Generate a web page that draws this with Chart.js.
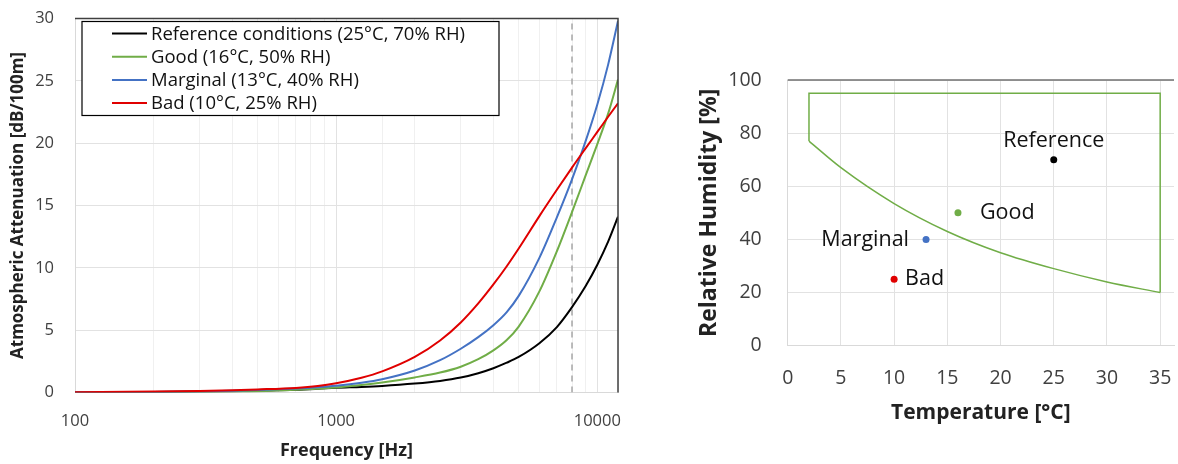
<!DOCTYPE html>
<html>
<head>
<meta charset="utf-8">
<script src="https://cdn.jsdelivr.net/npm/chart.js@4.4.0/dist/chart.umd.min.js"></script>
<style>
  html, body { margin: 0; padding: 0; background: #fff; }
  #wrap { position: relative; width: 1178px; height: 464px; }
  #chart-atten { position: absolute; left: 0; top: 0; }
  #chart-climate { position: absolute; left: 640px; top: 0; }
</style>
</head>
<body>
<div id="wrap">
  <canvas id="chart-atten" width="640" height="464"></canvas>
  <canvas id="chart-climate" width="538" height="464"></canvas>
</div>
<script>
// attenuation curves [dB/100m] read at these frequencies [Hz]
var freqs = [100, 200, 300, 400, 500, 700, 850, 1000, 1250, 1500, 2000, 2500, 3000, 3500, 4000, 4500, 5000, 6000, 7000, 8000, 9000, 10000, 11000, 12000];
var attReference = [0.02, 0.05, 0.08, 0.11, 0.15, 0.22, 0.3, 0.38, 0.45, 0.53, 0.72, 0.93, 1.2, 1.55, 1.95, 2.39, 2.85, 3.95, 5.25, 6.85, 8.5, 10.25, 12.1, 14.1];
var attGood = [0.01, 0.03, 0.06, 0.08, 0.11, 0.22, 0.31, 0.41, 0.6, 0.8, 1.21, 1.6, 2.07, 2.67, 3.38, 4.21, 5.29, 8.11, 11.33, 14.47, 17.35, 19.93, 22.37, 25.1];
var attMarginal = [0.02, 0.04, 0.09, 0.14, 0.2, 0.32, 0.42, 0.54, 0.78, 1.06, 1.76, 2.59, 3.51, 4.44, 5.4, 6.45, 7.75, 10.8, 14.05, 17.1, 20.1, 23.1, 26.3, 29.8];
var attBad = [0.03, 0.08, 0.13, 0.19, 0.25, 0.37, 0.52, 0.74, 1.18, 1.69, 2.85, 4.17, 5.62, 7.15, 8.67, 10.13, 11.55, 14.15, 16.26, 18.04, 19.56, 20.9, 22.12, 23.2];

var seriesLabels = [
  "Reference conditions (25°C, 70% RH)",
  "Good (16°C, 50% RH)",
  "Marginal (13°C, 40% RH)",
  "Bad (10°C, 25% RH)",
];
var seriesColors = ["#000000", "#70ad47", "#4472c4", "#e00000"];

var markerFreq = 8000;
var freqLabels = [100, 1000, 10000];
var attTicks = [0, 5, 10, 15, 20, 25, 30];

// climate points
var climateNames = ["Reference", "Good", "Marginal", "Bad"];
var climateTemp = [25, 16, 13, 10];
var climateRH = [70, 50, 40, 25];

// acceptable zone outline
var zoneBoxTemp = [2, 2, 35, 35];
var zoneBoxRH = [77, 95, 95, 20];
var zoneCurveTemp = [2, 5, 10, 15, 20, 25, 30, 35];
var zoneCurveRH = [77, 67, 53.5, 43, 35, 29, 24, 20];

var tempTicks = [0, 5, 10, 15, 20, 25, 30, 35];
var rhTicks = [0, 20, 40, 60, 80, 100];

function toPoints(xs, ys) {
  return xs.map(function (x, i) {
    return { x: x, y: ys[i] };
  });
}

function tickList(values) {
  return function (s) {
    s.ticks = values.map(function (v) {
      return { value: v };
    });
  };
}

// keep tick padding from pushing the plot area in
function fixSize(w, h) {
  return function (s) {
    if (w !== null) s.width = w;
    if (h !== null) s.height = h;
    s.paddingTop = 0;
    s.paddingBottom = 0;
    s.paddingLeft = 0;
    s.paddingRight = 0;
  };
}

// top (+ right) dark frame like the original plot area
var frameLines = {
  id: "frameLines",
  afterDraw: function (chart, args, opts) {
    var a = chart.chartArea;
    var c = chart.ctx;
    c.save();
    c.strokeStyle = opts.color;
    c.lineWidth = 1.5;
    c.beginPath();
    c.moveTo(a.left, a.top);
    c.lineTo(a.right, a.top);
    if (opts.right) c.lineTo(a.right, a.bottom);
    c.stroke();
    c.restore();
  },
};

var boxLegend = {
  id: "boxLegend",
  afterDraw: function (chart, args, opts) {
    var c = chart.ctx;
    c.save();
    c.fillStyle = "#fff";
    c.fillRect(opts.x, opts.y, opts.w, opts.h);
    c.strokeStyle = "#000";
    c.lineWidth = 1.2;
    c.strokeRect(opts.x, opts.y, opts.w, opts.h);
    c.font = "18.5px 'Open Sans'";
    c.textBaseline = "middle";
    for (var i = 0; i < seriesLabels.length; i++) {
      var yy = opts.y + 12 + i * 23.2;
      c.strokeStyle = seriesColors[i];
      c.lineWidth = 2;
      c.beginPath();
      c.moveTo(opts.x + 30, yy);
      c.lineTo(opts.x + 65, yy);
      c.stroke();
      c.fillStyle = "#111";
      c.fillText(seriesLabels[i], opts.x + 69, yy + 1);
    }
    c.restore();
  },
};

var pointNames = {
  id: "pointNames",
  afterDatasetsDraw: function (chart) {
    var meta = chart.getDatasetMeta(0);
    var c = chart.ctx;
    c.save();
    c.font = "21.5px 'Open Sans'";
    c.fillStyle = "#111";
    c.textBaseline = "middle";
    var place = ["above", "right", "left", "right"];
    var gap = [19, 22, 17, 11];
    meta.data.forEach(function (pt, i) {
      if (place[i] === "above") {
        c.textAlign = "center";
        c.fillText(climateNames[i], pt.x, pt.y - gap[i]);
      } else if (place[i] === "left") {
        c.textAlign = "right";
        c.fillText(climateNames[i], pt.x - gap[i], pt.y);
      } else {
        c.textAlign = "left";
        c.fillText(climateNames[i], pt.x + gap[i], pt.y);
      }
    });
    c.restore();
  },
};

var lineStyle = {
  borderWidth: 2,
  pointRadius: 0,
  fill: false,
  cubicInterpolationMode: "monotone",
};

var ctx = document.getElementById("chart-atten").getContext("2d");

new Chart(ctx, {
  type: "line",
  data: {
    datasets: [
      Object.assign({ label: seriesLabels[3], borderColor: seriesColors[3], data: toPoints(freqs, attBad), order: 1 }, lineStyle),
      Object.assign({ label: seriesLabels[2], borderColor: seriesColors[2], data: toPoints(freqs, attMarginal), order: 2 }, lineStyle),
      Object.assign({ label: seriesLabels[1], borderColor: seriesColors[1], data: toPoints(freqs, attGood), order: 3 }, lineStyle),
      Object.assign({ label: seriesLabels[0], borderColor: seriesColors[0], data: toPoints(freqs, attReference), order: 4 }, lineStyle),
      {
        label: "marker",
        data: [
          { x: markerFreq, y: attTicks[0] },
          { x: markerFreq, y: attTicks[attTicks.length - 1] },
        ],
        borderColor: "#a6a6a6",
        borderWidth: 1.5,
        borderDash: [6, 5],
        pointRadius: 0,
        order: 5,
      },
    ],
  },
  options: {
    responsive: false,
    animation: false,
    layout: {
      padding: { top: 18.5, right: 22, bottom: 0, left: 0 },
    },
    plugins: {
      legend: { display: false },
      tooltip: { enabled: false },
      frameLines: { color: "#404040", right: true },
      boxLegend: { x: 82, y: 21.5, w: 417, h: 94 },
    },
    scales: {
      x: {
        type: "logarithmic",
        min: freqs[0],
        max: freqs[freqs.length - 1],
        afterFit: fixSize(null, 71.5),
        grid: {
          drawTicks: false,
          color: function (c) {
            return freqLabels.indexOf(c.tick && c.tick.value) >= 0 ? "#e2e2e2" : "#f0f0f0";
          },
        },
        border: { color: "#d9d9d9" },
        ticks: {
          autoSkip: false,
          maxRotation: 0,
          padding: 19.3,
          color: "#404040",
          font: { size: 16.5, family: "Open Sans" },
          callback: function (v) {
            return freqLabels.indexOf(v) >= 0 ? String(v) : "";
          },
        },
        title: {
          display: true,
          text: "Frequency [Hz]",
          color: "#222",
          padding: { bottom: 2.7 },
          font: { size: 18, weight: "bold", family: "Open Sans" },
        },
      },
      y: {
        min: attTicks[0],
        max: attTicks[attTicks.length - 1],
        afterFit: fixSize(75, null),
        afterBuildTicks: tickList(attTicks),
        grid: { drawTicks: false, color: "#e2e2e2" },
        border: { color: "#d9d9d9" },
        ticks: {
          padding: 21,
          color: "#404040",
          font: { size: 16.5, family: "Open Sans" },
        },
        title: {
          display: true,
          text: "Atmospheric Attenuation [dB/100m]",
          color: "#222",
          padding: { top: 8.3 },
          font: { size: 17, weight: "bold", family: "Open Sans" },
        },
      },
    },
  },
  plugins: [frameLines, boxLegend],
});

var ctx2 = document.getElementById("chart-climate").getContext("2d");

new Chart(ctx2, {
  type: "scatter",
  data: {
    datasets: [
      {
        label: "Conditions",
        data: toPoints(climateTemp, climateRH),
        pointRadius: 3.5,
        pointBorderWidth: 0,
        pointBackgroundColor: seriesColors,
        order: 1,
      },
      {
        label: "Zone box",
        data: toPoints(zoneBoxTemp, zoneBoxRH),
        showLine: true,
        borderColor: "#70ad47",
        borderWidth: 1.5,
        pointRadius: 0,
        order: 2,
      },
      {
        label: "Zone curve",
        data: toPoints(zoneCurveTemp, zoneCurveRH),
        showLine: true,
        borderColor: "#70ad47",
        borderWidth: 1.5,
        pointRadius: 0,
        cubicInterpolationMode: "monotone",
        order: 3,
      },
    ],
  },
  options: {
    responsive: false,
    animation: false,
    layout: {
      padding: { top: 80, right: 0, bottom: 0, left: 0 },
    },
    plugins: {
      legend: { display: false },
      tooltip: { enabled: false },
      frameLines: { color: "#707070", right: false },
    },
    scales: {
      x: {
        type: "linear",
        min: 0,
        max: 36.3,
        afterFit: fixSize(null, 118.3),
        afterBuildTicks: tickList(tempTicks),
        grid: { drawTicks: false, color: "#e2e2e2" },
        border: { color: "#d9d9d9" },
        ticks: {
          padding: 20.6,
          color: "#404040",
          font: { size: 19.5, family: "Open Sans" },
        },
        title: {
          display: true,
          text: "Temperature [°C]",
          color: "#222",
          padding: { bottom: 38.4 },
          font: { size: 21, weight: "bold", family: "Open Sans" },
        },
      },
      y: {
        min: rhTicks[0],
        max: rhTicks[rhTicks.length - 1],
        afterFit: fixSize(147.7, null),
        afterBuildTicks: tickList(rhTicks),
        grid: { drawTicks: false, color: "#e2e2e2" },
        border: { color: "#d9d9d9" },
        ticks: {
          padding: 26,
          color: "#404040",
          font: { size: 19.5, family: "Open Sans" },
        },
        title: {
          display: true,
          text: "Relative Humidity [%]",
          color: "#222",
          padding: { top: 55.2 },
          font: { size: 23, weight: "bold", family: "Open Sans" },
        },
      },
    },
  },
  plugins: [frameLines, pointNames],
});
</script>
</body>
</html>
